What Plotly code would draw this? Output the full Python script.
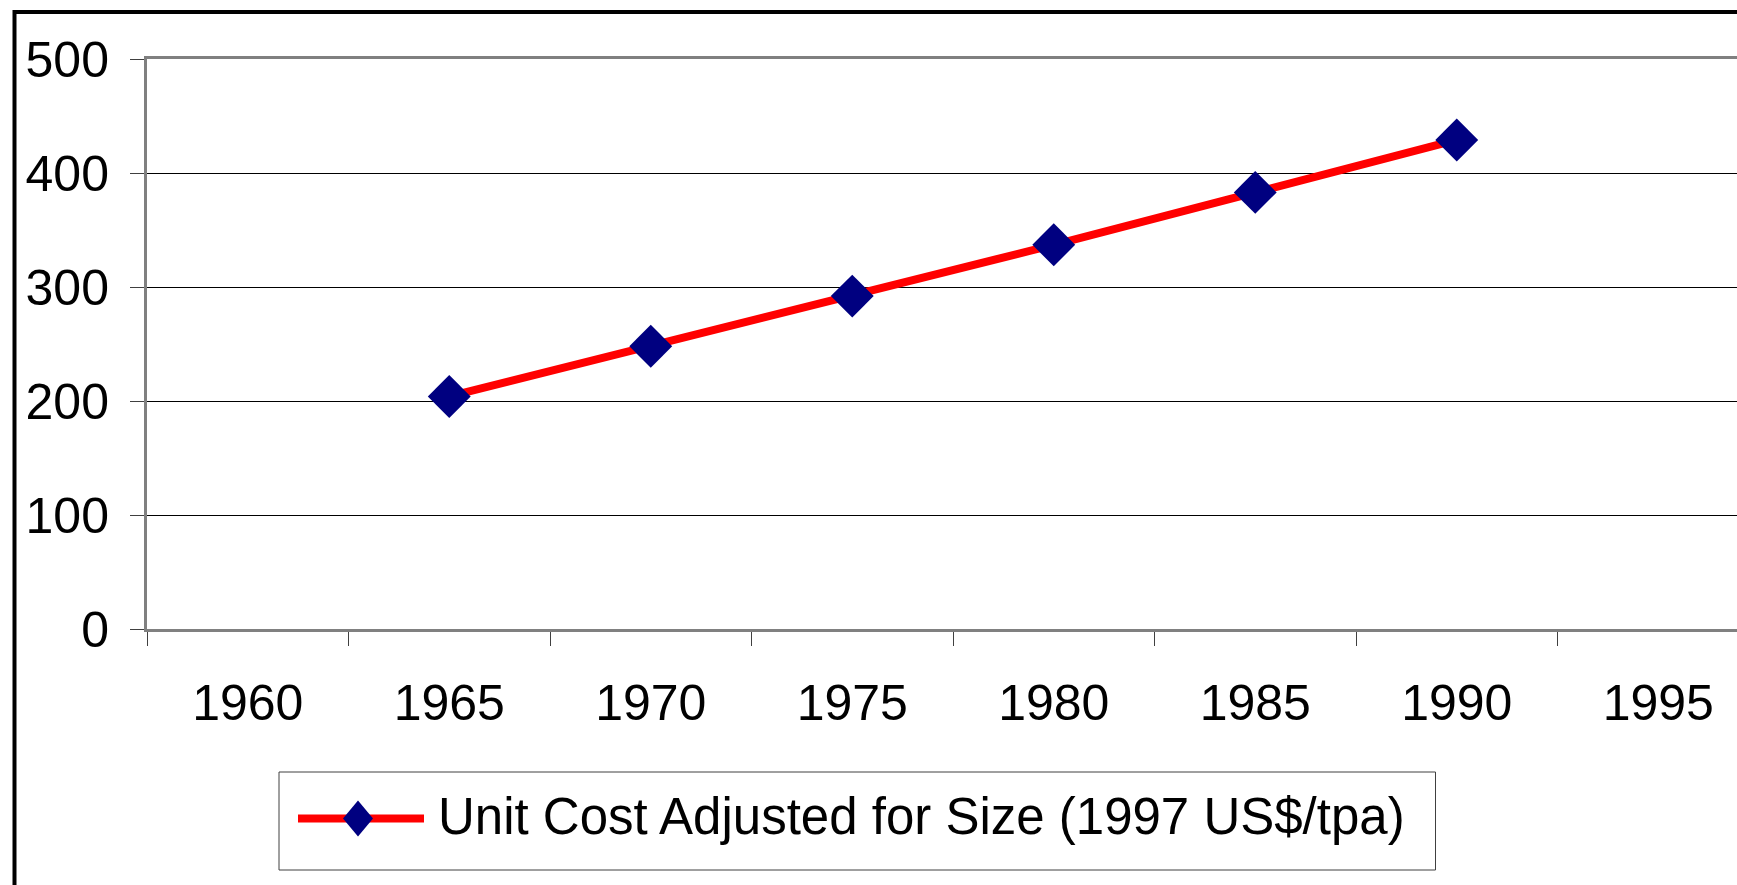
import plotly.graph_objects as go

# ---- data ----
categories = ["1960", "1965", "1970", "1975", "1980", "1985", "1990", "1995"]
years = ["1965", "1970", "1975", "1980", "1985", "1990"]
unit_cost = [204, 248, 292, 337, 383, 429]
series_name = "Unit Cost Adjusted for Size (1997 US$/tpa)"
y_ticks = [0, 100, 200, 300, 400, 500]

# ---- layout geometry (pixels) ----
W, H = 1737, 885
ML, MT, MB, MR = 147, 59, 256, 0
PW = W - ML - MR
PH = H - MT - MB
CAT_PX = 201.5  # width of one category slot

def px_x(x):
    return (x - ML) / PW

def px_y(y):
    return (H - MB - y) / PH

FONT = "Liberation Sans, Arial, sans-serif"

fig = go.Figure()

# helper trace to register all categories
fig.add_trace(go.Scatter(x=categories, y=[None] * len(categories), mode="markers",
                         showlegend=False, hoverinfo="skip"))

fig.add_trace(go.Scatter(
    x=years, y=unit_cost, mode="lines+markers", name=series_name,
    line=dict(color="#FF0000", width=8),
    marker=dict(symbol="diamond", size=33, color="#000080", line=dict(width=0)),
    showlegend=False,
))

shapes = []
# outer chart border (black)
shapes.append(dict(type="rect", xref="paper", yref="paper",
                   x0=px_x(14.5), x1=px_x(W + 50), y0=px_y(12), y1=px_y(H + 50),
                   line=dict(color="black", width=4), fillcolor="rgba(0,0,0,0)", layer="below"))
# legend box
shapes.append(dict(type="rect", xref="paper", yref="paper",
                   x0=px_x(279), x1=px_x(1435.5), y0=px_y(772), y1=px_y(870),
                   line=dict(color="#404040", width=1), fillcolor="white"))
# legend line sample
ly = 818.5
shapes.append(dict(type="line", xref="paper", yref="paper",
                   x0=px_x(298), x1=px_x(424), y0=px_y(ly), y1=px_y(ly),
                   line=dict(color="#FF0000", width=8)))
# legend diamond
cx, hw, hh = 358, 15, 18
path = "M {} {} L {} {} L {} {} L {} {} Z".format(
    px_x(cx - hw), px_y(ly), px_x(cx), px_y(ly - hh),
    px_x(cx + hw), px_y(ly), px_x(cx), px_y(ly + hh))
shapes.append(dict(type="path", xref="paper", yref="paper", path=path,
                   fillcolor="#000080", line=dict(width=0)))

annotations = [dict(
    text=series_name, xref="paper", yref="paper",
    x=px_x(436), y=px_y(816), xanchor="left", yanchor="middle",
    showarrow=False, font=dict(family=FONT, size=51, color="black"),
)]

fig.update_layout(
    width=W, height=H,
    margin=dict(l=ML, r=MR, t=MT, b=MB, pad=0),
    paper_bgcolor="white", plot_bgcolor="white",
    shapes=shapes, annotations=annotations,
    showlegend=False,
    font=dict(family=FONT, size=50, color="black"),
    xaxis=dict(
        type="category", categoryorder="array", categoryarray=categories,
        range=[-0.5, -0.5 + PW / CAT_PX],
        tickson="boundaries", ticks="outside", ticklen=14, tickwidth=1, tickcolor="#404040",
        showgrid=False, zeroline=False,
        showline=True, linecolor="#808080", linewidth=3, mirror=True,
        tickfont=dict(family=FONT, size=50, color="black"),
        ticklabelstandoff=28,
    ),
    yaxis=dict(
        range=[0, 500], tickvals=y_ticks,
        ticks="outside", ticklen=14, tickwidth=1, tickcolor="#404040",
        showgrid=True, gridcolor="black", gridwidth=1, zeroline=False,
        showline=True, linecolor="#808080", linewidth=3, mirror=False,
        tickfont=dict(family=FONT, size=50, color="black"),
        ticklabelstandoff=11,
    ),
)

fig.write_html(
    "out.html",
    config={"displayModeBar": False},
    post_script="document.body.style.margin='0';document.body.style.overflow='hidden';",
)
